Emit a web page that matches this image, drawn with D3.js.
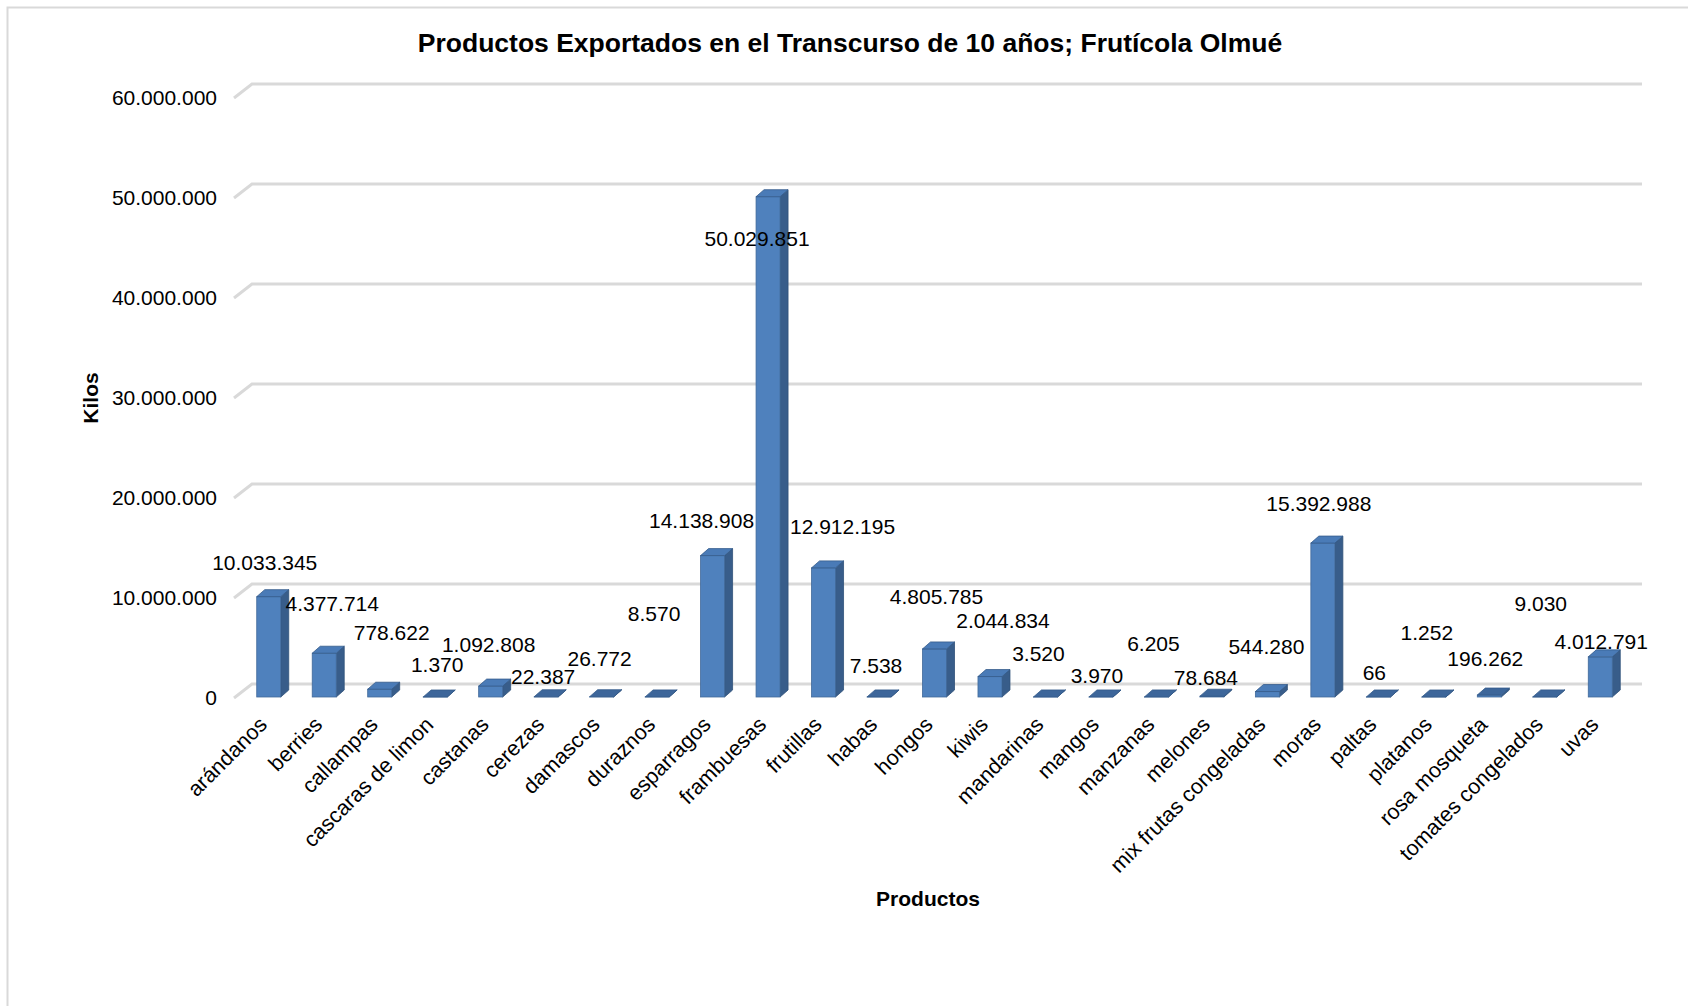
<!DOCTYPE html>
<html>
<head>
<meta charset="utf-8">
<script src="https://cdn.jsdelivr.net/npm/d3@7"></script>
<style>
  body { margin: 0; background: #fff; }
  text { font-family: "Liberation Sans", Arial, sans-serif; }
</style>
</head>
<body>
<div id="chart"></div>
<script>
// Productos exportados (kilos) en 10 años
let productos = ["arándanos", "berries", "callampas", "cascaras de limon", "castanas", "cerezas",
	"damascos", "duraznos", "esparragos", "frambuesas", "frutillas", "habas", "hongos", "kiwis",
	"mandarinas", "mangos", "manzanas", "melones", "mix frutas congeladas", "moras", "paltas",
	"platanos", "rosa mosqueta", "tomates congelados", "uvas"];
let kilos = [10033345, 4377714, 778622, 1370, 1092808, 22387, 26772, 8570, 14138908, 50029851,
	12912195, 7538, 4805785, 2044834, 3520, 3970, 6205, 78684, 544280, 15392988, 66, 1252,
	196262, 9030, 4012791];
let yTicks = [0, 10000000, 20000000, 30000000, 40000000, 50000000, 60000000];

// excel put the value labels all over the place, nudge them [dx, dy] from the bar top
let labelNudge = [[-4, -32], [8, -48], [12, -55], [2, -31], [-2, -40], [-3, -18], [-2, -36],
	[-3, -81], [-11, -33], [-11, 44], [19, -39], [-3, -29], [2, -50], [13, -54], [-7, -42],
	[-4, -20], [-3, -51], [-6, -17], [-1, -43], [-4, -38], [-4, -23], [-7, -63], [-4, -35],
	[-4, -91], [1, -13]];

let width = 1688, height = 1006;
let depthX = 8, depthY = 7;
let barW = 24;

let es = d3.formatLocale({ decimal: ",", thousands: ".", grouping: [3], currency: ["", ""] });
let fmt = es.format(",d");

let svg = d3.select("#chart").append("svg")
	.attr("width", width)
	.attr("height", height);

// chart area border
svg.append("rect")
	.attr("x", 7.5).attr("y", 7.5)
	.attr("width", width).attr("height", height)
	.attr("fill", "none")
	.attr("stroke", "#d9d9d9")
	.attr("stroke-width", 2);

let x = d3.scaleBand()
	.domain(productos)
	.range([243, 1630])
	.padding(0);

let y = d3.scaleLinear()
	.domain([0, 60000000])
	.range([697, 97]);

// gridlines with the little 3d floor slant on the left
let grid = svg.append("g");
yTicks.forEach(function (t) {
	let yy = y(t);
	grid.append("path")
		.attr("d", `M234,${yy + 1}L252,${yy - 13}L1642,${yy - 13}`)
		.attr("fill", "none")
		.attr("stroke", "#d9d9d9")
		.attr("stroke-width", 3);
});

// y axis labels
svg.append("g").selectAll("text")
	.data(yTicks).enter()
	.append("text")
	.attr("x", 217)
	.attr("y", (d) => y(d) + 2)
	.attr("text-anchor", "end")
	.attr("dominant-baseline", "middle")
	.style("font-size", "21px")
	.style("fill", "#000")
	.text((d) => fmt(d));

let data = productos.map((p, i) => ({ name: p, value: kilos[i], nudge: labelNudge[i] }));

let bars = svg.append("g").selectAll("g")
	.data(data).enter()
	.append("g");

function cx(d) { return x(d.name) + x.bandwidth() / 2 - 2; }

// side face
bars.append("path")
	.attr("d", function (d) {
		let x1 = cx(d) + barW / 2, yt = y(d.value), yb = y(0);
		return `M${x1},${yb}L${x1 + depthX},${yb - depthY}L${x1 + depthX},${yt - depthY}L${x1},${yt}Z`;
	})
	.attr("fill", "#385d8a")
	.attr("stroke", "#2f5079")
	.attr("stroke-width", 0.8);

// front face
bars.append("rect")
	.attr("x", (d) => cx(d) - barW / 2)
	.attr("y", (d) => y(d.value))
	.attr("width", barW)
	.attr("height", (d) => y(0) - y(d.value))
	.attr("fill", "#4f81bd")
	.attr("stroke", "#41699a")
	.attr("stroke-width", 0.8);

// top face
bars.append("path")
	.attr("d", function (d) {
		let x0 = cx(d) - barW / 2, x1 = cx(d) + barW / 2, yt = y(d.value);
		return `M${x0},${yt}L${x1},${yt}L${x1 + depthX},${yt - depthY}L${x0 + depthX},${yt - depthY}Z`;
	})
	.attr("fill", (d) => d.value > 300000 ? "#4a7bb7" : "#3d669a")
	.attr("stroke", "#335a8a")
	.attr("stroke-width", 0.8);

// value labels
svg.append("g").selectAll("text")
	.data(data).enter()
	.append("text")
	.attr("x", (d) => cx(d) + d.nudge[0])
	.attr("y", (d) => y(d.value) + d.nudge[1])
	.attr("text-anchor", "middle")
	.attr("dominant-baseline", "middle")
	.style("font-size", "21px")
	.style("fill", "#000")
	.text((d) => fmt(d.value));

// category labels, rotated
svg.append("g").selectAll("text")
	.data(productos).enter()
	.append("text")
	.attr("transform", (d) => `translate(${x(d) + x.bandwidth() / 2 - 2.5},726) rotate(-45)`)
	.attr("text-anchor", "end")
	.style("font-size", "21.5px")
	.style("fill", "#000")
	.text((d) => d);

// titles
svg.append("text")
	.attr("x", 850).attr("y", 45)
	.attr("text-anchor", "middle")
	.attr("dominant-baseline", "middle")
	.style("font-size", "26.5px")
	.style("font-weight", "bold")
	.text("Productos Exportados en el Transcurso de 10 años; Frutícola Olmué");

svg.append("text")
	.attr("x", 928).attr("y", 900)
	.attr("text-anchor", "middle")
	.attr("dominant-baseline", "middle")
	.style("font-size", "21px")
	.style("font-weight", "bold")
	.text("Productos");

svg.append("text")
	.attr("transform", "translate(92,398) rotate(-90)")
	.attr("text-anchor", "middle")
	.attr("dominant-baseline", "middle")
	.style("font-size", "21px")
	.style("font-weight", "bold")
	.text("Kilos");
</script>
</body>
</html>
